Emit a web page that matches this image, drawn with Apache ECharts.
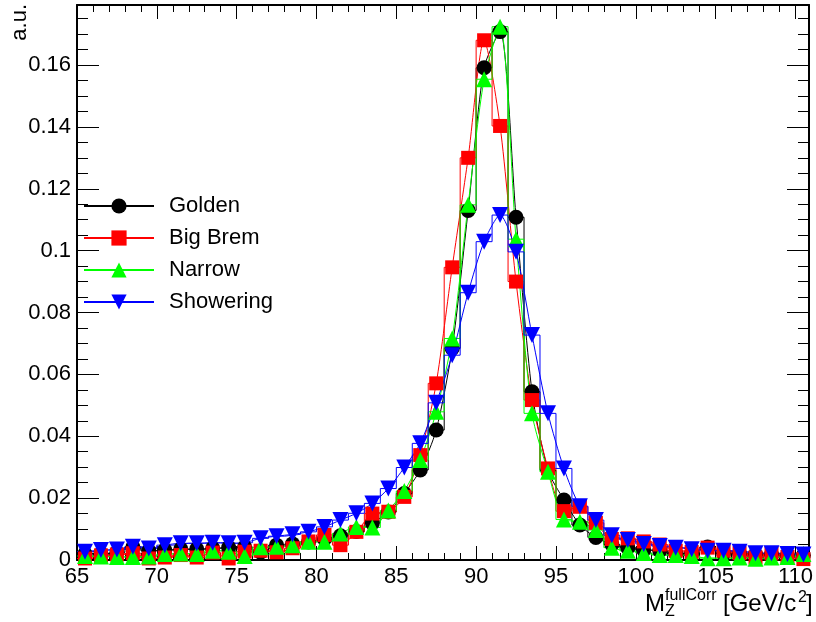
<!DOCTYPE html>
<html>
<head>
<meta charset="utf-8">
<script src="https://cdn.jsdelivr.net/npm/echarts@6/dist/echarts.min.js"></script>
<style>
  html, body { margin: 0; padding: 0; background: #ffffff; }
  #chart { width: 816px; height: 622px; }
</style>
</head>
<body>
<div id="chart"></div>
<script>
// Z mass distributions per electron class, 1 GeV bins from 65 to 111 GeV
const binCenters = [
  65.5, 66.5, 67.5, 68.5, 69.5, 70.5, 71.5, 72.5, 73.5, 74.5,
  75.5, 76.5, 77.5, 78.5, 79.5, 80.5, 81.5, 82.5, 83.5, 84.5,
  85.5, 86.5, 87.5, 88.5, 89.5, 90.5, 91.5, 92.5, 93.5, 94.5,
  95.5, 96.5, 97.5, 98.5, 99.5, 100.5, 101.5, 102.5, 103.5, 104.5,
  105.5, 106.5, 107.5, 108.5, 109.5, 110.5
];
const binWidth = 1;

const golden = [
  0.0020, 0.0020, 0.0025, 0.0042, 0.0030, 0.0032, 0.0035, 0.0035, 0.0038, 0.0040,
  0.0042, 0.0025, 0.0048, 0.0052, 0.0058, 0.0068, 0.0078, 0.0092, 0.0120, 0.0155,
  0.0215, 0.0291, 0.0420, 0.0684, 0.1130, 0.1591, 0.1708, 0.1108, 0.0544, 0.0290,
  0.0194, 0.0113, 0.0073, 0.0050, 0.0040, 0.0032, 0.0030, 0.0022, 0.0022, 0.0042,
  0.0022, 0.0020, 0.0018, 0.0018, 0.0015, 0.0015
];
const bigBrem = [
  0.0005, 0.0015, 0.0018, 0.0022, 0.0005, 0.0008, 0.0016, 0.0008, 0.0024, 0.0005,
  0.0027, 0.0030, 0.0025, 0.0038, 0.0060, 0.0081, 0.0048, 0.0091, 0.0150, 0.0156,
  0.0204, 0.0339, 0.0571, 0.0946, 0.1300, 0.1680, 0.1403, 0.0900, 0.0517, 0.0296,
  0.0158, 0.0172, 0.0120, 0.0068, 0.0070, 0.0060, 0.0050, 0.0030, 0.0026, 0.0040,
  0.0030, 0.0022, 0.0008, 0.0021, 0.0010, 0.0003
];
const narrow = [
  0.0013, 0.0011, 0.0010, 0.0010, 0.0011, 0.0019, 0.0021, 0.0019, 0.0030, 0.0027,
  0.0013, 0.0041, 0.0043, 0.0048, 0.0059, 0.0059, 0.0086, 0.0107, 0.0105, 0.0160,
  0.0223, 0.0323, 0.0479, 0.0716, 0.1148, 0.1554, 0.1724, 0.1037, 0.0474, 0.0285,
  0.0131, 0.0124, 0.0097, 0.0040, 0.0030, 0.0023, 0.0016, 0.0016, 0.0013, 0.0006,
  0.0006, 0.0008, 0.0004, 0.0008, 0.0010, 0.0019
];
const showering = [
  0.0027, 0.0032, 0.0034, 0.0043, 0.0037, 0.0048, 0.0054, 0.0054, 0.0056, 0.0054,
  0.0056, 0.0070, 0.0077, 0.0083, 0.0091, 0.0107, 0.0129, 0.0151, 0.0183, 0.0231,
  0.0299, 0.0377, 0.0508, 0.0662, 0.0864, 0.1029, 0.1115, 0.0996, 0.0727, 0.0474,
  0.0296, 0.0174, 0.0129, 0.0080, 0.0065, 0.0052, 0.0045, 0.0040, 0.0035, 0.0030,
  0.0030, 0.0027, 0.0022, 0.0022, 0.0019, 0.0018
];

const xMajorTicks = [65, 70, 75, 80, 85, 90, 95, 100, 105, 110];
const yMajorTicks = [0, 0.02, 0.04, 0.06, 0.08, 0.1, 0.12, 0.14, 0.16];

const X_MIN = 65, X_MAX = 110.85;
const Y_MIN = 0, Y_MAX = 0.1794;

// minor ticks: every 1 GeV on x, every 0.005 on y
const xMinorTicks = [];
for (let v = 65; v <= 110; v += 1) xMinorTicks.push(v);
const yMinorTicks = [];
for (let k = 0; k * 0.005 <= Y_MAX; k++) yMinorTicks.push(+(k * 0.005).toFixed(3));

const FONT = '"Liberation Sans", Arial, Helvetica, sans-serif';

const classes = [
  { name: 'Golden',     values: golden,    color: '#000000', symbol: 'circle',   size: 15, rotate: 0 },
  { name: 'Big Brem',   values: bigBrem,   color: '#ff0000', symbol: 'rect',     size: 14, rotate: 0 },
  { name: 'Narrow',     values: narrow,    color: '#00ff00', symbol: 'triangle', size: 16, rotate: 0 },
  { name: 'Showering',  values: showering, color: '#0000ff', symbol: 'triangle', size: 16, rotate: 180 }
];

function stepOutline(values) {
  const pts = [];
  values.forEach((v, i) => {
    pts.push([binCenters[i] - binWidth / 2, v]);
    pts.push([binCenters[i] + binWidth / 2, v]);
  });
  return pts;
}

const series = [];
classes.forEach(c => {
  series.push({
    name: c.name + ' hist',
    type: 'line',
    xAxisIndex: 0, yAxisIndex: 0,
    data: stepOutline(c.values),
    showSymbol: false,
    symbol: 'none',
    lineStyle: { color: c.color, width: 1 },
    silent: true
  });
  series.push({
    name: c.name,
    type: 'line',
    xAxisIndex: 0, yAxisIndex: 0,
    data: c.values.map((v, i) => [binCenters[i], v]),
    smooth: 0.25,
    symbol: c.symbol,
    symbolSize: c.size,
    symbolRotate: c.rotate,
    showAllSymbol: true,
    color: c.color,
    itemStyle: { color: c.color },
    lineStyle: { color: c.color, width: 1 },
    silent: true
  });
});

function xAxisDef(position, ticks, len, showLine, labels) {
  return {
    type: 'value', position: position, min: X_MIN, max: X_MAX,
    axisLine: { show: showLine, onZero: false, lineStyle: { color: '#000', width: 2 } },
    axisTick: { show: true, inside: true, length: len, customValues: ticks, lineStyle: { color: '#000', width: 1 } },
    axisLabel: labels ? {
      show: true, customValues: xMajorTicks, margin: 6,
      color: '#000', fontSize: 22, fontFamily: FONT
    } : { show: false },
    splitLine: { show: false }, minorTick: { show: false }
  };
}
function yAxisDef(position, ticks, len, showLine, labels) {
  return {
    type: 'value', position: position, min: Y_MIN, max: Y_MAX,
    axisLine: { show: showLine, onZero: false, lineStyle: { color: '#000', width: 2 } },
    axisTick: { show: true, inside: true, length: len, customValues: ticks, lineStyle: { color: '#000', width: 1 } },
    axisLabel: labels ? {
      show: true, customValues: yMajorTicks, margin: 6,
      color: '#000', fontSize: 22, fontFamily: FONT,
      formatter: v => String(+v.toFixed(3))
    } : { show: false },
    splitLine: { show: false }, minorTick: { show: false }
  };
}

function titleText(str, x, y, size) {
  return { type: 'text', x: x, y: y,
    style: { text: str, font: size + 'px ' + FONT, fill: '#000', align: 'left', verticalAlign: 'middle' } };
}

const chart = echarts.init(document.getElementById('chart'), null, { renderer: 'canvas' });
chart.setOption({
  backgroundColor: '#ffffff',
  animation: false,
  grid: { left: 77, right: 7, top: 5, bottom: 62, containLabel: false },
  xAxis: [
    xAxisDef('bottom', xMajorTicks, 14, true, true),
    xAxisDef('bottom', xMinorTicks, 7, false, false),
    xAxisDef('top', xMajorTicks, 14, true, false),
    xAxisDef('top', xMinorTicks, 7, false, false)
  ],
  yAxis: [
    yAxisDef('left', yMajorTicks, 22, true, true),
    yAxisDef('left', yMinorTicks, 11, false, false),
    yAxisDef('right', yMajorTicks, 22, true, false),
    yAxisDef('right', yMinorTicks, 11, false, false)
  ],
  legend: {
    data: classes.map(c => c.name),
    orient: 'vertical',
    left: 83, top: 195,
    padding: 0,
    itemWidth: 70, itemHeight: 19, itemGap: 10,
    selectedMode: false,
    textStyle: { color: '#000', fontSize: 22, fontFamily: FONT, padding: [0, 0, 0, 10] }
  },
  graphic: [
    { type: 'text', x: 20, y: 4, rotation: Math.PI / 2,
      style: { text: 'a.u.', font: '22px ' + FONT, fill: '#000', align: 'right', verticalAlign: 'middle' } },
    // M_Z^{fullCorr} [GeV/c^2]
    titleText('M', 645, 604, 24),
    titleText('Z', 665, 612, 16),
    titleText('fullCorr', 665, 596, 16),
    titleText('[GeV/c', 723, 604, 24),
    titleText('2', 798, 598, 16),
    titleText(']', 806, 604, 24)
  ],
  series: series
});
</script>
</body>
</html>
